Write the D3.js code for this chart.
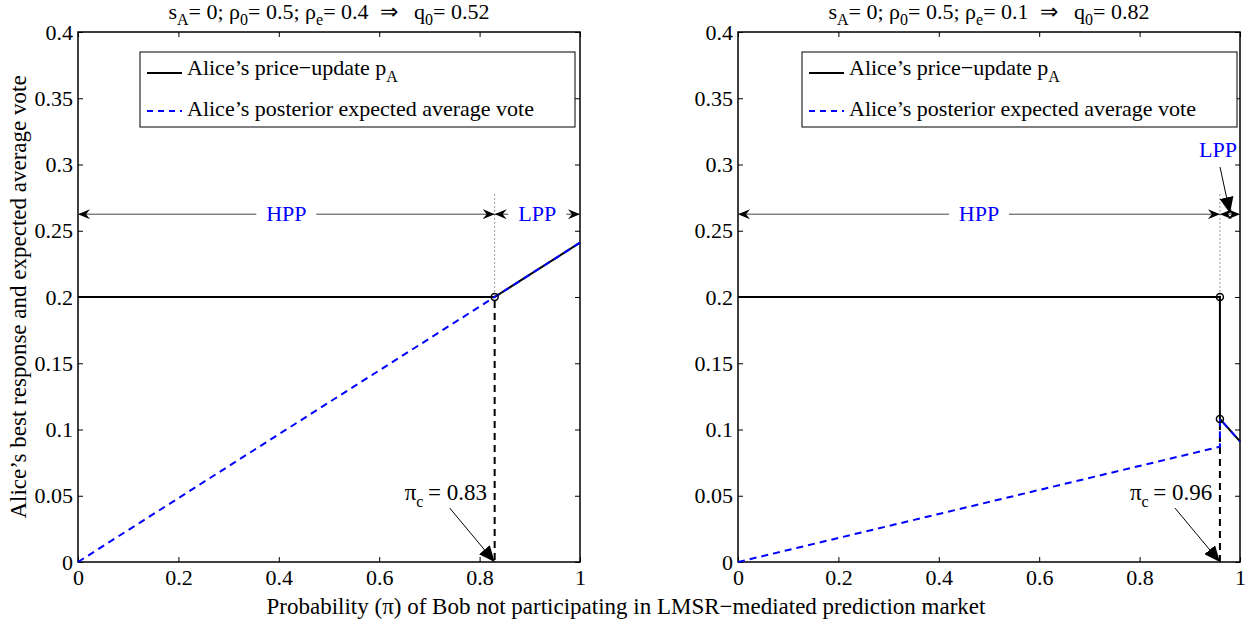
<!DOCTYPE html>
<html>
<head>
<meta charset="utf-8">
<script src="https://cdn.jsdelivr.net/npm/d3@7"></script>
<style>
  body { margin: 0; background: #fff; }
</style>
</head>
<body>
<script>
// tick values
var xTicks = [0, 0.2, 0.4, 0.6, 0.8, 1];
var yTicks = [0, 0.05, 0.1, 0.15, 0.2, 0.25, 0.3, 0.35, 0.4];

// left panel
var leftPiC = 0.83;
var leftPrice = [[0, 0.2], [0.83, 0.2], [1, 0.241]];
var leftVote = [[0, 0], [0.83, 0.2], [1, 0.241]];
var leftMarks = [[0.83, 0.2]];

// right panel
var rightPiC = 0.96;
var rightPrice = [[0, 0.2], [0.96, 0.2], [0.96, 0.108], [1, 0.091]];
var rightVote = [[0, 0], [0.96, 0.087], [0.96, 0.108], [1, 0.091]];
var rightMarks = [[0.96, 0.2], [0.96, 0.108]];

var regionY = 0.2625; // level of HPP / LPP arrows

var w = 1252, h = 626;
var svg = d3.select("body").append("svg").attr("width", w).attr("height", h);

var defs = svg.append("defs");
defs.append("marker").attr("id", "head").attr("viewBox", "0 0 12 10")
  .attr("refX", 12).attr("refY", 5).attr("markerWidth", 12).attr("markerHeight", 10)
  .attr("markerUnits", "userSpaceOnUse").attr("orient", "auto-start-reverse")
  .append("path").attr("d", "M0,0 L12,5 L0,10 L4,5 Z").attr("fill", "#000");
defs.append("marker").attr("id", "bighead").attr("viewBox", "0 0 16 14")
  .attr("refX", 16).attr("refY", 7).attr("markerWidth", 16).attr("markerHeight", 14)
  .attr("markerUnits", "userSpaceOnUse").attr("orient", "auto")
  .append("path").attr("d", "M0,0 L16,7 L0,14 Z").attr("fill", "#000");

var y = d3.scaleLinear().domain([0, 0.4]).range([562, 32]);

function panel(x0, x1, cfg) {
  var x = d3.scaleLinear().domain([0, 1]).range([x0, x1]);
  var g = svg.append("g");
  var line = d3.line().x(function(d) { return x(d[0]); }).y(function(d) { return y(d[1]); });

  // axes with inward ticks
  g.append("g").attr("transform", "translate(0,562)")
    .call(d3.axisBottom(x).tickValues(xTicks).tickSize(-5).tickPadding(7).tickFormat(d3.format("~g")));
  g.append("g").attr("transform", "translate(0,32)")
    .call(d3.axisTop(x).tickValues(xTicks).tickSize(-5).tickFormat(""));
  g.append("g").attr("transform", "translate(" + x0 + ",0)")
    .call(d3.axisLeft(y).tickValues(yTicks).tickSize(-5).tickPadding(5).tickFormat(d3.format("~g")));
  g.append("g").attr("transform", "translate(" + x1 + ",0)")
    .call(d3.axisRight(y).tickValues(yTicks).tickSize(-5).tickFormat(""));
  g.selectAll(".domain").remove();
  g.selectAll(".tick line").attr("stroke", "#000").attr("stroke-width", 1);
  g.selectAll(".tick text").attr("font-size", 22).attr("fill", "#000");
  g.append("rect").attr("x", x0).attr("y", 32).attr("width", x1 - x0).attr("height", 530)
    .attr("fill", "none").attr("stroke", "#000").attr("stroke-width", 1.5);

  // title
  var t = g.append("text").attr("x", (x0 + x1) / 2).attr("y", 19)
    .attr("text-anchor", "middle").attr("font-size", 22);
  t.append("tspan").text("s");
  t.append("tspan").attr("font-size", 16).attr("dy", 6).text("A");
  t.append("tspan").attr("dy", -6).text("= 0; \u03c1");
  t.append("tspan").attr("font-size", 16).attr("dy", 6).text("0");
  t.append("tspan").attr("dy", -6).text("= 0.5; \u03c1");
  t.append("tspan").attr("font-size", 16).attr("dy", 6).text("e");
  t.append("tspan").attr("dy", -6).text("= " + cfg.rhoE + "\u00a0\u00a0\u21d2\u00a0\u00a0\u00a0q");
  t.append("tspan").attr("font-size", 16).attr("dy", 6).text("0");
  t.append("tspan").attr("dy", -6).text("= " + cfg.q0);

  // dotted guide above the switch point
  g.append("line").attr("x1", x(cfg.piC)).attr("x2", x(cfg.piC))
    .attr("y1", y(regionY) - 20).attr("y2", y(0.2))
    .attr("stroke", "#777").attr("stroke-width", 1).attr("stroke-dasharray", "1.5,2.5");

  // vertical dashed marker at pi_c
  g.append("line").attr("x1", x(cfg.piC)).attr("x2", x(cfg.piC))
    .attr("y1", y(cfg.marks[cfg.marks.length - 1][1]) + 4).attr("y2", y(0))
    .attr("stroke", "#000").attr("stroke-width", 2).attr("stroke-dasharray", "7,5");

  // curves
  g.append("path").attr("d", line(cfg.price)).attr("fill", "none")
    .attr("stroke", "#000").attr("stroke-width", 2);
  g.append("path").attr("d", line(cfg.vote)).attr("fill", "none")
    .attr("stroke", "#0000ff").attr("stroke-width", 2).attr("stroke-dasharray", "7,5");

  g.selectAll("circle.m").data(cfg.marks).enter().append("circle")
    .attr("cx", function(d) { return x(d[0]); }).attr("cy", function(d) { return y(d[1]); })
    .attr("r", 3.5).attr("fill", "none").attr("stroke", "#000").attr("stroke-width", 1.5);

  // region arrows
  var ay = y(regionY);
  var hppMid = (x0 + x(cfg.piC)) / 2;
  g.append("line").attr("x1", x(cfg.piC)).attr("x2", x0).attr("y1", ay).attr("y2", ay)
    .attr("stroke", "#444").attr("stroke-width", 1)
    .attr("marker-start", "url(#head)").attr("marker-end", "url(#head)");
  g.append("line").attr("x1", x(cfg.piC)).attr("x2", x1).attr("y1", ay).attr("y2", ay)
    .attr("stroke", "#444").attr("stroke-width", 1)
    .attr("marker-start", "url(#head)").attr("marker-end", "url(#head)");
  g.append("rect").attr("x", hppMid - 30).attr("y", ay - 12).attr("width", 60).attr("height", 24).attr("fill", "#fff");
  g.append("text").attr("x", hppMid).attr("y", ay + 7).attr("text-anchor", "middle")
    .attr("font-size", 22).attr("fill", "#0000ff").text("HPP");
  if (cfg.lppInline) {
    var lm = (x(cfg.piC) + x1) / 2;
    g.append("rect").attr("x", lm - 29).attr("y", ay - 12).attr("width", 58).attr("height", 24).attr("fill", "#fff");
    g.append("text").attr("x", lm).attr("y", ay + 7).attr("text-anchor", "middle")
      .attr("font-size", 22).attr("fill", "#0000ff").text("LPP");
  } else {
    g.append("text").attr("x", x1 - 22).attr("y", 157).attr("text-anchor", "middle")
      .attr("font-size", 22).attr("fill", "#0000ff").text("LPP");
    g.append("line").attr("x1", x1 - 20).attr("y1", 167)
      .attr("x2", (x(cfg.piC) + x1) / 2).attr("y2", ay - 1)
      .attr("stroke", "#000").attr("stroke-width", 1).attr("marker-end", "url(#bighead)");
  }

  // pi_c label and arrow
  var lx = x(cfg.piC) - 90, ly = 500;
  var pt = g.append("text").attr("x", lx).attr("y", ly).attr("font-size", 23);
  pt.append("tspan").text("\u03c0");
  pt.append("tspan").attr("font-size", 16).attr("dy", 7).text("c");
  pt.append("tspan").attr("dy", -7).text("\u2009= " + cfg.piC);
  g.append("line").attr("x1", x(cfg.piC) - 45).attr("y1", 508)
    .attr("x2", x(cfg.piC)).attr("y2", y(0))
    .attr("stroke", "#000").attr("stroke-width", 1).attr("marker-end", "url(#bighead)");

  // legend
  var lg = g.append("g").attr("transform", "translate(" + (x0 + cfg.legDx) + ",52)");
  lg.append("rect").attr("width", 435).attr("height", 75).attr("fill", "#fff")
    .attr("stroke", "#000").attr("stroke-width", 1);
  lg.append("line").attr("x1", 7).attr("x2", 42).attr("y1", 21).attr("y2", 21)
    .attr("stroke", "#000").attr("stroke-width", 2);
  lg.append("line").attr("x1", 7).attr("x2", 42).attr("y1", 59).attr("y2", 59)
    .attr("stroke", "#0000ff").attr("stroke-width", 2).attr("stroke-dasharray", "6,5");
  var l1 = lg.append("text").attr("x", 47).attr("y", 23).attr("font-size", 22);
  l1.append("tspan").text("Alice\u2019s price\u2212update p");
  l1.append("tspan").attr("font-size", 16).attr("dy", 7).text("A");
  lg.append("text").attr("x", 47).attr("y", 64).attr("font-size", 22)
    .text("Alice\u2019s posterior expected average vote");
}

panel(78, 580, { piC: leftPiC, price: leftPrice, vote: leftVote, marks: leftMarks,
  rhoE: "0.4", q0: "0.52", lppInline: true, legDx: 62 });
panel(738, 1240, { piC: rightPiC, price: rightPrice, vote: rightVote, marks: rightMarks,
  rhoE: "0.1", q0: "0.82", lppInline: false, legDx: 64 });

// shared axis labels
svg.append("text").attr("transform", "translate(26,297) rotate(-90)")
  .attr("text-anchor", "middle").attr("font-size", 23)
  .text("Alice\u2019s best response and expected average vote");
svg.append("text").attr("x", 626).attr("y", 614).attr("text-anchor", "middle").attr("font-size", 23)
  .text("Probability (\u03c0) of Bob not participating in LMSR\u2212mediated prediction market");

// serif everywhere
svg.selectAll("text").style("font-family", "Liberation Serif");
</script>
</body>
</html>
